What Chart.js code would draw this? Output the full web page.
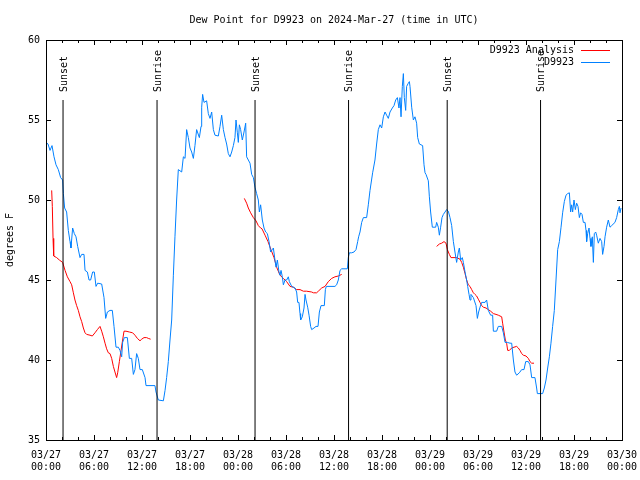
<!DOCTYPE html>
<html>
<head>
<meta charset="utf-8">
<script src="https://cdn.jsdelivr.net/npm/chart.js@4.4.1/dist/chart.umd.min.js"></script>
<style>
  html, body { margin: 0; padding: 0; background: #fff; }
  canvas { display: block; }
</style>
</head>
<body>
<canvas id="c" width="640" height="480"></canvas>
<script>
// ---- data (hours since 03/27 00:00 UTC, dew point in °F) ----
const titleText = 'Dew Point for D9923 on 2024-Mar-27 (time in UTC)';
const yAxisLabel = 'degrees F';
const seriesNames = ['D9923 Analysis', 'D9923'];

const xTickLabels = [
  ['03/27','00:00'], ['03/27','06:00'], ['03/27','12:00'], ['03/27','18:00'],
  ['03/28','00:00'], ['03/28','06:00'], ['03/28','12:00'], ['03/28','18:00'],
  ['03/29','00:00'], ['03/29','06:00'], ['03/29','12:00'], ['03/29','18:00'],
  ['03/30','00:00']
];

const sunHours  = [2.13, 13.88, 26.13, 37.82, 50.15, 61.82];
const sunLabels = ['Sunset', 'Sunrise', 'Sunset', 'Sunrise', 'Sunset', 'Sunrise'];

const obsHours = [
  0.0, 0.25, 0.5, 0.75, 1.0, 1.25, 1.54, 1.83, 2.08, 2.17, 2.33, 2.58, 2.79, 3.0, 3.12,
  3.33, 3.54, 3.75, 3.96, 4.25, 4.46, 4.75, 4.88, 5.17, 5.38, 5.58, 5.83, 6.04, 6.25,
  6.46, 6.96, 7.25, 7.46, 7.67, 8.0, 8.29, 8.5, 8.75, 9.04, 9.25, 9.46, 9.58, 9.79,
  10.17, 10.42, 10.71, 10.92, 11.12, 11.33, 11.54, 11.75, 12.04, 12.38, 12.5, 13.0,
  13.62, 13.75, 14.04, 14.67, 14.88, 15.08, 15.29, 15.5, 15.71, 15.92, 16.12, 16.33,
  16.54, 16.96, 17.17, 17.38, 17.58, 17.79, 18.0, 18.21, 18.42, 18.62, 18.83, 19.17,
  19.38, 19.46, 19.58, 19.75, 20.08, 20.29, 20.5, 20.71, 20.92, 21.12, 21.54, 21.75,
  21.96, 22.17, 22.38, 22.58, 22.79, 23.0, 23.21, 23.42, 23.62, 23.75, 23.92, 24.04,
  24.17, 24.33, 24.54, 24.75, 24.96, 25.08, 25.29, 25.5, 25.71, 25.92, 26.12, 26.33,
  26.54, 26.67, 26.83, 27.04, 27.25, 27.46, 27.67, 27.88, 28.08, 28.29, 28.42, 28.62,
  28.75, 28.92, 29.12, 29.25, 29.38, 29.54, 29.67, 29.88, 30.08, 30.29, 30.42, 30.71,
  31.12, 31.33, 31.46, 31.62, 31.75, 31.83, 32.04, 32.25, 32.38, 32.5, 32.71, 32.88,
  33.08, 33.21, 33.5, 33.75, 34.0, 34.17, 34.38, 34.79, 34.92, 35.04, 35.5, 36.12,
  36.33, 36.54, 36.75, 36.96, 37.38, 37.67, 37.79, 37.92, 38.21, 38.5, 38.75, 38.96,
  39.08, 39.25, 39.46, 39.67, 40.08, 40.29, 40.5, 40.83, 41.12, 41.33, 41.54, 41.75,
  41.96, 42.17, 42.38, 42.58, 42.79, 43.0, 43.29, 43.5, 43.71, 43.92, 44.12, 44.25,
  44.38, 44.54, 44.67, 44.79, 44.96, 45.08, 45.29, 45.42, 45.5, 45.71, 45.92, 46.12,
  46.33, 46.46, 46.67, 47.08, 47.25, 47.38, 47.5, 47.79, 47.92, 48.08, 48.29, 48.71,
  48.83, 49.04, 49.17, 49.33, 49.5, 49.67, 49.88, 50.08, 50.29, 50.5, 50.71, 50.92,
  51.12, 51.33, 51.54, 51.67, 51.83, 52.04, 52.17, 52.38, 52.58, 52.71, 52.88, 53.0,
  53.12, 53.42, 53.75, 53.92, 54.08, 54.25, 54.46, 54.88, 55.08, 55.29, 55.58, 55.83,
  55.92, 56.33, 56.54, 56.96, 57.17, 57.38, 57.67, 58.0, 58.21, 58.42, 58.62, 58.83,
  59.17, 59.46, 59.75, 59.96, 60.29, 60.5, 60.71, 61.12, 61.33, 61.42, 62.08, 62.29,
  62.5, 62.71, 62.92, 63.12, 63.33, 63.54, 63.75, 63.96, 64.17, 64.38, 64.58, 64.79,
  65.0, 65.21, 65.42, 65.58, 65.71, 65.83, 66.0, 66.17, 66.33, 66.5, 66.67, 66.83,
  67.0, 67.17, 67.38, 67.5, 67.58, 67.71, 67.88, 68.0, 68.12, 68.29, 68.42, 68.54,
  68.71, 68.83, 69.04, 69.25, 69.46, 69.58, 69.75, 69.88, 70.08, 70.29, 70.5, 70.71,
  71.12, 71.33, 71.54, 71.67, 71.75, 71.88
];
const obsDew = [
  53.6, 53.5, 53.1, 53.4, 52.7, 52.2, 51.9, 51.4, 51.25, 50.4, 49.5, 49.25, 48.1, 47.4, 47.0,
  48.25, 47.9, 47.7, 47.1, 46.4, 46.6, 46.6, 45.6, 45.5, 45.0, 45.0, 45.5, 45.5, 44.6,
  44.8, 44.75, 43.9, 42.6, 43.0, 43.1, 43.1, 42.1, 40.8, 40.8, 40.6, 40.2, 41.1, 41.4,
  41.4, 40.1, 40.1, 39.1, 39.4, 40.4, 40.1, 39.4, 39.4, 38.9, 38.4, 38.4,
  38.4, 38.0, 37.5, 37.45, 38.1, 38.9, 39.9, 41.25, 42.5, 45.3, 47.7, 50.0,
  51.9, 51.75, 52.7, 52.6, 54.4, 53.9, 53.25, 53.0, 52.6, 53.4, 54.4, 53.9,
  54.6, 55.8, 56.6, 56.1, 56.2, 55.4, 55.1, 55.5, 54.4, 54.05, 54.0, 54.6,
  55.3, 54.4, 53.9, 53.5, 52.9, 52.7, 53.0, 53.4, 53.9, 55.0, 54.2, 53.6,
  54.7, 54.4, 53.75, 54.25, 54.8, 52.7, 52.5, 52.3, 51.6, 51.4, 50.8, 50.4,
  50.0, 49.25, 49.7, 48.75, 48.25, 48.0, 47.9, 47.4, 46.75, 46.9, 47.0, 46.25,
  45.8, 46.25, 45.5, 45.3, 45.6, 45.2, 44.7, 45.0, 45.0, 45.2, 44.9, 44.6,
  44.5, 44.25, 43.6, 43.6, 42.9, 42.5, 42.7, 43.25, 44.1, 43.75, 43.3, 42.8,
  42.1, 41.9, 42.0, 42.1, 42.1, 43.0, 43.4, 43.4, 44.4, 44.6, 44.6, 44.6,
  44.7, 45.0, 45.6, 45.7, 45.7, 45.7, 46.4, 46.7, 46.7, 46.75, 46.9, 47.4,
  47.7, 48.0, 48.6, 48.9, 48.9, 49.7, 50.6, 51.7, 52.5, 53.5, 54.4, 54.7,
  54.5, 55.2, 55.5, 55.3, 55.1, 55.5, 55.75, 55.9, 56.25, 56.4, 55.75, 56.4,
  55.2, 57.1, 57.9, 56.4, 55.6, 57.1, 57.3, 57.4, 57.1, 55.8, 55.0, 55.2,
  54.8, 53.9, 53.5, 53.4, 52.2, 51.7, 51.6, 51.2, 50.2, 49.25, 48.3, 48.3,
  48.6, 48.3, 47.8, 48.3, 48.9, 49.1, 49.25, 49.4, 49.3, 48.9, 48.4, 47.4,
  46.75, 46.1, 46.75, 47.0, 46.25, 46.4, 46.1, 45.5, 45.0, 44.6, 44.1, 43.75,
  44.1, 43.9, 43.4, 42.6, 43.0, 43.3, 43.6, 43.6, 43.75, 43.1, 42.8, 42.8,
  41.8, 41.8, 42.1, 42.1, 41.7, 41.1, 41.1, 41.05, 41.05, 40.0, 39.25, 39.05,
  39.2, 39.4, 39.4, 39.9, 39.9, 39.7, 38.9, 38.9, 38.25, 37.9, 37.9, 38.25,
  38.75, 39.5, 40.2, 41.05, 42.1, 43.1, 45.0, 46.9, 47.4, 48.3, 49.2, 49.9,
  50.3, 50.4, 50.45, 49.25, 49.7, 49.25, 50.0, 49.4, 49.8, 49.6, 48.9, 49.2,
  49.1, 48.6, 48.6, 48.1, 47.4, 47.9, 48.25, 47.6, 47.1, 47.7, 46.1, 47.9,
  48.0, 47.8, 47.3, 47.6, 47.4, 46.6, 47.1, 47.7, 48.3, 48.75, 48.3, 48.4,
  48.6, 48.9, 49.4, 49.6, 49.2, 49.5
];

// analysis series; null entries mark gaps between runs
const anaHours = [
  0.71, 0.79, 0.88, 0.96, 1.33, 1.67, 2.08, 2.38, 2.67, 3.0, 3.21, 3.42, 3.62, 3.83,
  4.04, 4.25, 4.46, 4.67, 4.88, 5.08, 5.5, 5.79, 6.12, 6.42, 6.75, 6.96, 7.17, 7.38,
  7.58, 7.79, 8.0, 8.21, 8.42, 8.62, 8.83, 8.96, 9.17, 9.38, 9.58, 9.75, 10.0, 10.42,
  10.83, 11.12, 11.42, 11.75, 11.96, 12.25, 12.58, 12.79, 13.08,
  18.0,
  24.79, 25.08, 25.29, 25.58, 25.92, 26.25, 26.54, 26.83, 27.0, 27.38, 27.75, 28.12,
  28.5, 28.83, 29.25, 29.67, 30.08, 30.5, 30.92, 31.33, 31.75, 32.17, 32.58, 33.21,
  33.42, 33.83, 34.04, 34.46, 34.88, 35.29, 35.71, 36.12, 36.54, 36.96,
  42.0,
  48.83, 49.17, 49.46, 49.75, 50.0, 50.17, 50.42, 50.62, 51.33, 51.75, 51.96, 52.17,
  52.38, 52.58, 52.79, 53.0, 53.21, 53.42, 53.62, 53.83, 54.04, 54.25, 54.46, 54.67,
  55.0, 55.29, 55.58, 55.92, 56.25, 56.54, 56.96, 57.08, 57.25, 57.42, 57.58, 57.71,
  57.92, 58.21, 58.5, 58.83, 59.04, 59.25, 59.46, 59.67, 60.0, 60.29, 60.5, 60.71, 61.0
];
const anaDew = [
  50.6, 49.6, 47.6, 46.5, 46.4, 46.25, 46.1, 45.6, 45.2, 44.9, 44.7, 44.2, 43.75, 43.4,
  43.1, 42.7, 42.4, 42.0, 41.7, 41.6, 41.55, 41.5, 41.7, 41.9, 42.1, 41.8, 41.45, 41.05,
  40.7, 40.45, 40.4, 40.1, 39.6, 39.25, 38.9, 39.2, 39.9, 40.6, 41.25, 41.8, 41.8, 41.75,
  41.7, 41.55, 41.35, 41.2, 41.3, 41.4, 41.4, 41.35, 41.3,
  null,
  50.1, 49.8, 49.5, 49.2, 48.9, 48.7, 48.4, 48.25, 48.2, 47.8, 47.4, 46.9,
  46.4, 45.8, 45.3, 45.1, 44.9, 44.6, 44.55, 44.4, 44.4, 44.3, 44.3, 44.25,
  44.2, 44.2, 44.3, 44.5, 44.6, 44.9, 45.1, 45.2, 45.25, 45.35,
  null,
  47.1, 47.25, 47.3, 47.4, 47.3, 46.9, 46.6, 46.4, 46.4, 46.3, 46.1, 45.8,
  45.4, 45.0, 44.7, 44.6, 44.4, 44.2, 44.1, 44.0, 43.8, 43.6, 43.4, 43.3,
  43.25, 43.15, 43.05, 42.9, 42.85, 42.8, 42.7, 42.3, 41.75, 41.25, 41.05, 40.6,
  40.6, 40.75, 40.8, 40.85, 40.75, 40.6, 40.4, 40.3, 40.25, 40.1, 39.9, 39.8, 39.8
];

// ---- styling / config ----
const FONT_FAMILY = '"DejaVu Sans Mono", "Liberation Mono", monospace';
const FONT = '10px ' + FONT_FAMILY;
const RED = 'rgb(255,0,0)';
const BLUE = 'rgb(0,128,255)';
const X_MIN = 0, X_MAX = 72, Y_MIN = 35, Y_MAX = 60;
const SUN_LINE_FRAC = 0.85, SUN_LABEL_FRAC = 0.87;

const zip = (xs, ys) => xs.map((x, i) => ({ x: x, y: ys[i] }));
const sunTop = Y_MIN + SUN_LINE_FRAC * (Y_MAX - Y_MIN);

const datasets = [
  { label: seriesNames[0], data: zip(anaHours, anaDew), borderColor: RED, borderWidth: 1,
    pointRadius: 0, tension: 0, spanGaps: false, fill: false, order: 2 },
  { label: seriesNames[1], data: zip(obsHours, obsDew), borderColor: BLUE, borderWidth: 1,
    pointRadius: 0, tension: 0, fill: false, order: 1 }
];
sunHours.forEach((h, i) => {
  datasets.push({ label: 'sun' + i, data: [{ x: h, y: Y_MIN }, { x: h, y: sunTop }],
    borderColor: '#000', borderWidth: 1, pointRadius: 0, fill: false, order: 0 });
});

const framePlugin = {
  id: 'frame',
  afterDraw(chart) {
    const ctx = chart.ctx, a = chart.chartArea;
    const xs = chart.scales.x, ys = chart.scales.y;
    ctx.save();
    ctx.strokeStyle = '#000';
    ctx.lineWidth = 1;
    ctx.strokeRect(Math.round(a.left) + 0.5, Math.round(a.top) + 0.5,
                   Math.round(a.right - a.left), Math.round(a.bottom - a.top));
    ctx.beginPath();
    for (let h = X_MIN; h <= X_MAX; h += 2) {
      const px = Math.round(xs.getPixelForValue(h)) + 0.5;
      const len = (h % 6 === 0) ? 5 : 3;
      ctx.moveTo(px, a.bottom); ctx.lineTo(px, a.bottom - len);
      ctx.moveTo(px, a.top); ctx.lineTo(px, a.top + len);
    }
    for (let v = Y_MIN; v <= Y_MAX; v += 5) {
      const py = Math.round(ys.getPixelForValue(v)) + 0.5;
      ctx.moveTo(a.left, py); ctx.lineTo(a.left + 5, py);
      ctx.moveTo(a.right, py); ctx.lineTo(a.right - 5, py);
    }
    ctx.stroke();

    ctx.fillStyle = '#000';
    ctx.font = FONT;
    const labelY = ys.getPixelForValue(Y_MIN + SUN_LABEL_FRAC * (Y_MAX - Y_MIN));
    sunHours.forEach((h, i) => {
      const px = xs.getPixelForValue(h);
      ctx.save();
      ctx.translate(px + 1, labelY);
      ctx.rotate(-Math.PI / 2);
      ctx.textAlign = 'left';
      ctx.textBaseline = 'middle';
      ctx.fillText(sunLabels[i], 0, 0);
      ctx.restore();
    });

    ctx.textAlign = 'center';
    ctx.textBaseline = 'middle';
    ctx.fillText(titleText, (a.left + a.right) / 2, 20);

    const colors = [RED, BLUE];
    seriesNames.forEach((name, i) => {
      const y = a.top + 10 + i * 12;
      ctx.fillStyle = '#000';
      ctx.textAlign = 'right';
      ctx.fillText(name, a.right - 48, y);
      ctx.strokeStyle = colors[i];
      ctx.beginPath();
      ctx.moveTo(a.right - 41, Math.round(y) + 0.5);
      ctx.lineTo(a.right - 12, Math.round(y) + 0.5);
      ctx.stroke();
    });
    ctx.restore();
  }
};

new Chart(document.getElementById('c'), {
  type: 'line',
  data: { datasets: datasets },
  options: {
    responsive: false,
    animation: false,
    devicePixelRatio: 1,
    layout: { padding: { top: 40, right: 18, bottom: 0, left: 0 } },
    plugins: { legend: { display: false }, title: { display: false }, tooltip: { enabled: false } },
    scales: {
      x: {
        type: 'linear', min: X_MIN, max: X_MAX,
        grid: { display: false, drawTicks: false },
        border: { display: false },
        afterFit(s) { s.height = 40; s.paddingLeft = 0; s.paddingRight = 0; },
        afterBuildTicks(s) {
          s.ticks = xTickLabels.map((_, i) => ({ value: X_MIN + i * 6 }));
        },
        ticks: {
          autoSkip: false, maxRotation: 0, minRotation: 0, padding: 9,
          color: '#000', font: { family: FONT_FAMILY, size: 10, lineHeight: 1.2 },
          callback: (v, i) => xTickLabels[i]
        }
      },
      y: {
        type: 'linear', min: Y_MIN, max: Y_MAX,
        grid: { display: false, drawTicks: false },
        border: { display: false },
        afterFit(s) { s.width = 46; s.paddingTop = 0; s.paddingBottom = 0; },
        ticks: {
          stepSize: 5, padding: 6, color: '#000',
          font: { family: FONT_FAMILY, size: 10 }
        },
        title: {
          display: true, text: yAxisLabel, color: '#000',
          font: { family: FONT_FAMILY, size: 10, lineHeight: 1.2 },
          padding: { top: 4, bottom: 0 }
        }
      }
    }
  },
  plugins: [framePlugin]
});
</script>
</body>
</html>
